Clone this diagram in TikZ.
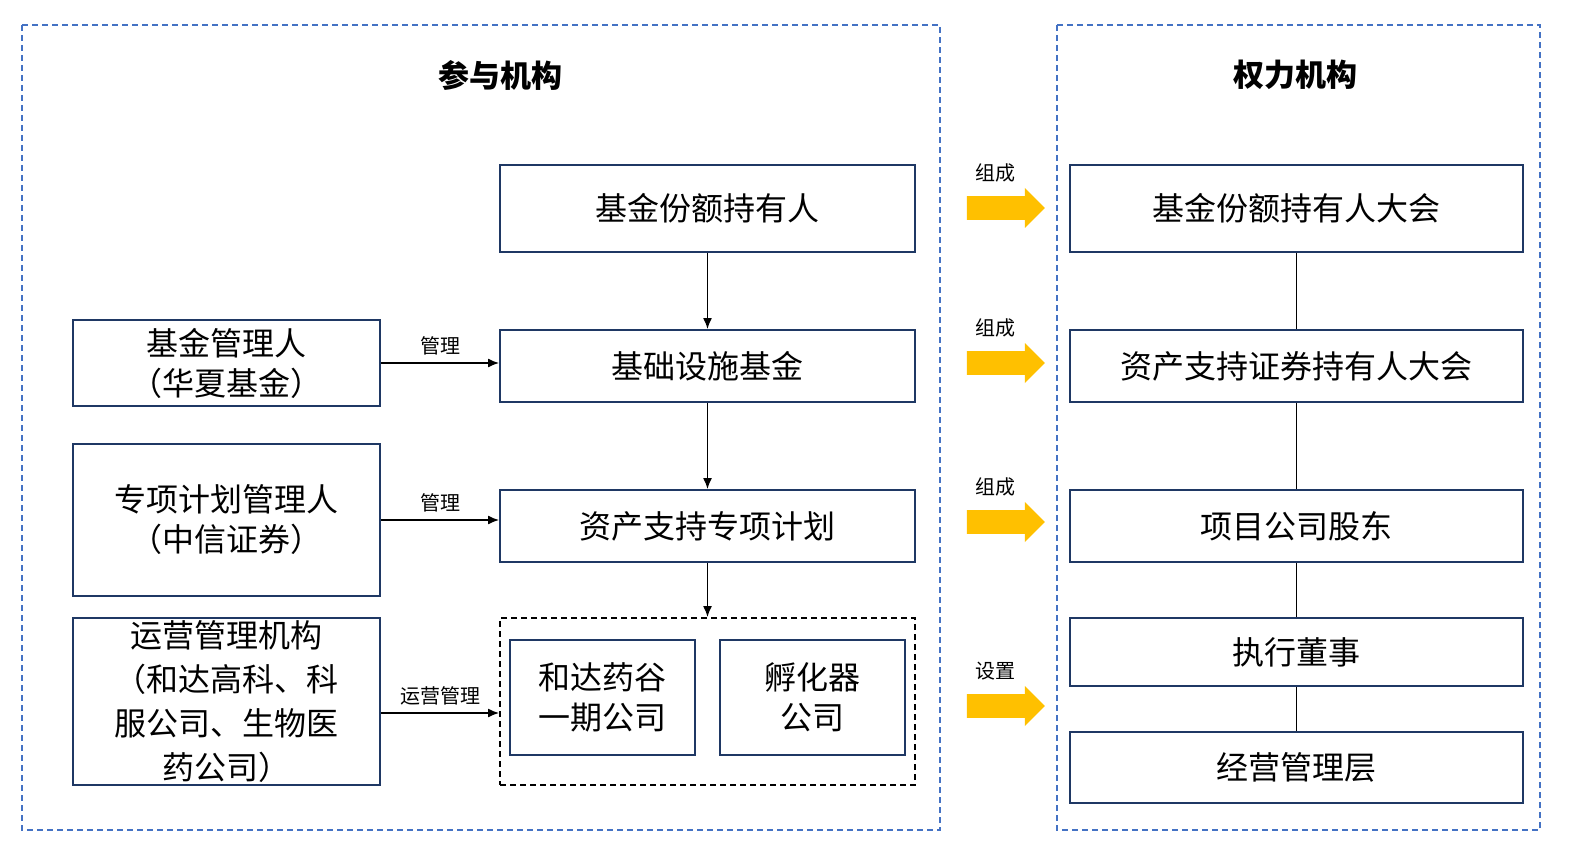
\documentclass[tikz,border=0pt]{standalone}
\usepackage{fontspec}
\setmainfont{Noto Sans CJK SC}
\usetikzlibrary{arrows.meta,shapes.arrows}
\definecolor{navy}{RGB}{31,56,100}
\definecolor{frameblue}{RGB}{68,114,196}
\definecolor{gold}{RGB}{255,192,0}
\begin{document}
\begin{tikzpicture}[x=1pt,y=-1pt,>={Latex[length=11pt,width=9pt]}
	,line width=1.3pt]
  \tikzset{box/.style={draw=navy,line width=2pt,inner sep=0pt,font=\fontsize{32}{40}\selectfont,align=center},
           frame/.style={draw=frameblue,dash pattern=on 6pt off 4pt,line width=1.5pt},
           lab/.style={font=\fontsize{20}{24}\selectfont,anchor=south},
           fat/.style={single arrow,fill=gold,minimum height=78pt,minimum width=40pt,single arrow head extend=8pt,inner sep=11pt}}
  \useasboundingbox (0,0) rectangle (1570,842);
  % frames
  \draw[frame] (22,25) rectangle (940,830);
  \draw[frame] (1057,25) rectangle (1540,830);
  \node[font=\fontsize{31}{36}\selectfont\bfseries] (tl) at (500,75) {参与机构};
  \node[font=\fontsize{31}{36}\selectfont\bfseries] (tr) at (1295,75) {权力机构};
  % middle column
  \node[box,minimum width=415pt,minimum height=87pt] (hold) at (707.5,208.5) {基金份额持有人};
  \node[box,minimum width=415pt,minimum height=72pt] (fund) at (707.5,366) {基础设施基金};
  \node[box,minimum width=415pt,minimum height=72pt] (plan) at (707.5,526) {资产支持专项计划};
  \node[draw,dash pattern=on 6pt off 4pt,line width=2pt,minimum width=415pt,minimum height=167pt] (proj) at (707.5,701.5) {};
  \node[box,minimum width=185pt,minimum height=115pt] (hd) at (602.5,697.5) {和达药谷\\一期公司};
  \node[box,minimum width=185pt,minimum height=115pt] (inc) at (812.5,697.5) {孵化器\\公司};
  % left column
  \node[box,minimum width=307pt,minimum height=86pt] (mgr) at (226.5,363) {基金管理人\\（华夏基金）};
  \node[box,minimum width=307pt,minimum height=152pt] (spm) at (226.5,520) {专项计划管理人\\（中信证券）};
  \node[box,minimum width=307pt,minimum height=167pt,font=\fontsize{32}{44}\selectfont] (ops) at (226.5,701.5) {运营管理机构\\（和达高科、科\\服公司、生物医\\药公司）};
  \coordinate (opsy) at (0,713);
  % right column
  \node[box,minimum width=453pt,minimum height=87pt] (mtg) at (1296.5,208.5) {基金份额持有人大会};
  \node[box,minimum width=453pt,minimum height=72pt] (abs) at (1296.5,366) {资产支持证券持有人大会};
  \node[box,minimum width=453pt,minimum height=72pt] (sh) at (1296.5,526) {项目公司股东};
  \node[box,minimum width=453pt,minimum height=68pt] (dir) at (1296.5,652) {执行董事};
  \node[box,minimum width=453pt,minimum height=71pt] (mgt) at (1296.5,767.5) {经营管理层};
  % arrows
  \draw[->] (hold) -- (fund);
  \draw[->] (fund) -- (plan);
  \draw[->] (plan) -- (proj);
  \draw[->] (mgr) -- node[lab,yshift=4pt] {管理} (fund.west |- mgr);
  \draw[->] (spm) -- node[lab,yshift=4pt] {管理} (plan.west |- spm);
  \draw[->] (ops.east |- opsy) -- node[lab,yshift=4pt] {运营管理} (proj.west |- opsy);
  \draw (mtg) -- (abs) -- (sh) -- (dir) -- (mgt);
  % fat arrows
  \foreach \y/\t in {208/组成,363/组成,522/组成,706/设置}{
    \node[fat] (f\y) at (1000,\y) {};
    \node[lab] at (995,\y-22) {\t};
  }
\end{tikzpicture}
\end{document}
